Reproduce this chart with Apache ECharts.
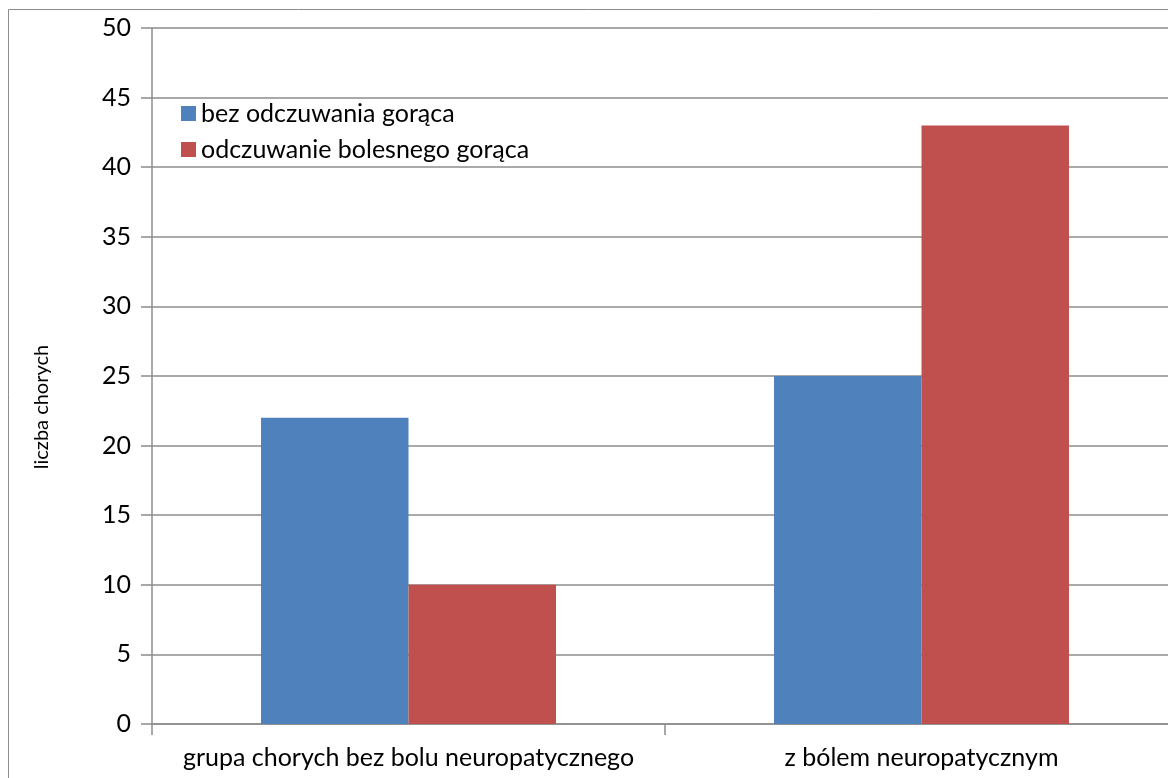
<!DOCTYPE html>
<html>
<head>
<meta charset="utf-8">
<script src="https://cdn.jsdelivr.net/npm/echarts@6/dist/echarts.min.js"></script>
<style>
  html, body { margin: 0; padding: 0; background: #fff; }
  #chart { width: 1168px; height: 778px; }
</style>
</head>
<body>
<div id="chart"></div>
<script>
// Patient groups and counts per heat-perception response
const categories = ['grupa chorych bez bolu neuropatycznego', 'z bólem neuropatycznym'];
const seriesNames = ['bez odczuwania gorąca', 'odczuwanie bolesnego gorąca'];
const noHeatValues = [22, 25];
const painfulHeatValues = [10, 43];
const yAxisTitle = 'liczba chorych';

const FONT = 'Lato, "Open Sans", sans-serif';
const GREY = '#8c8c8c';

const chart = echarts.init(document.getElementById('chart'), null, { renderer: 'canvas' });

chart.setOption({
  backgroundColor: '#fff',
  animation: false,
  graphic: [{
    type: 'rect',
    shape: { x: 8.5, y: 9.5, width: 1200, height: 800 },
    style: { fill: 'none', stroke: GREY, lineWidth: 1 },
    silent: true
  }],
  legend: {
    orient: 'vertical',
    left: 176,
    top: 96,
    itemWidth: 15,
    itemHeight: 15,
    itemGap: 11,
    icon: 'rect',
    textStyle: { fontFamily: FONT, fontSize: 25, color: '#000' },
    data: seriesNames
  },
  grid: {
    left: 152,
    width: 1026,
    top: 28,
    bottom: 54,
    outerBoundsMode: 'none',
    containLabel: false
  },
  xAxis: {
    type: 'category',
    data: categories,
    axisLine: { lineStyle: { color: GREY, width: 1.5 } },
    axisTick: { show: true, length: 11, alignWithLabel: false, lineStyle: { color: GREY, width: 1.5 } },
    axisLabel: { fontFamily: FONT, fontSize: 25, color: '#000', margin: 21, interval: 0 }
  },
  yAxis: {
    type: 'value',
    min: 0,
    max: 50,
    interval: 5,
    name: yAxisTitle,
    nameLocation: 'middle',
    nameGap: 100,
    nameRotate: 90,
    nameTextStyle: { fontFamily: FONT, fontSize: 20, color: '#000', padding: [0, 62, 0, 0] },
    axisLine: { show: true, lineStyle: { color: GREY, width: 1.5 } },
    axisTick: { show: true, length: 11, lineStyle: { color: GREY, width: 1.5 } },
    axisLabel: { fontFamily: FONT, fontSize: 25, color: '#000', margin: 21 },
    splitLine: { show: true, lineStyle: { color: GREY, width: 1.5 } }
  },
  series: [
    {
      name: seriesNames[0],
      type: 'bar',
      data: noHeatValues,
      itemStyle: { color: '#4F81BD' },
      barGap: '0%',
      barCategoryGap: '42.5%'
    },
    {
      name: seriesNames[1],
      type: 'bar',
      data: painfulHeatValues,
      itemStyle: { color: '#C0504D' },
      barGap: '0%',
      barCategoryGap: '42.5%'
    }
  ]
});
</script>
</body>
</html>
